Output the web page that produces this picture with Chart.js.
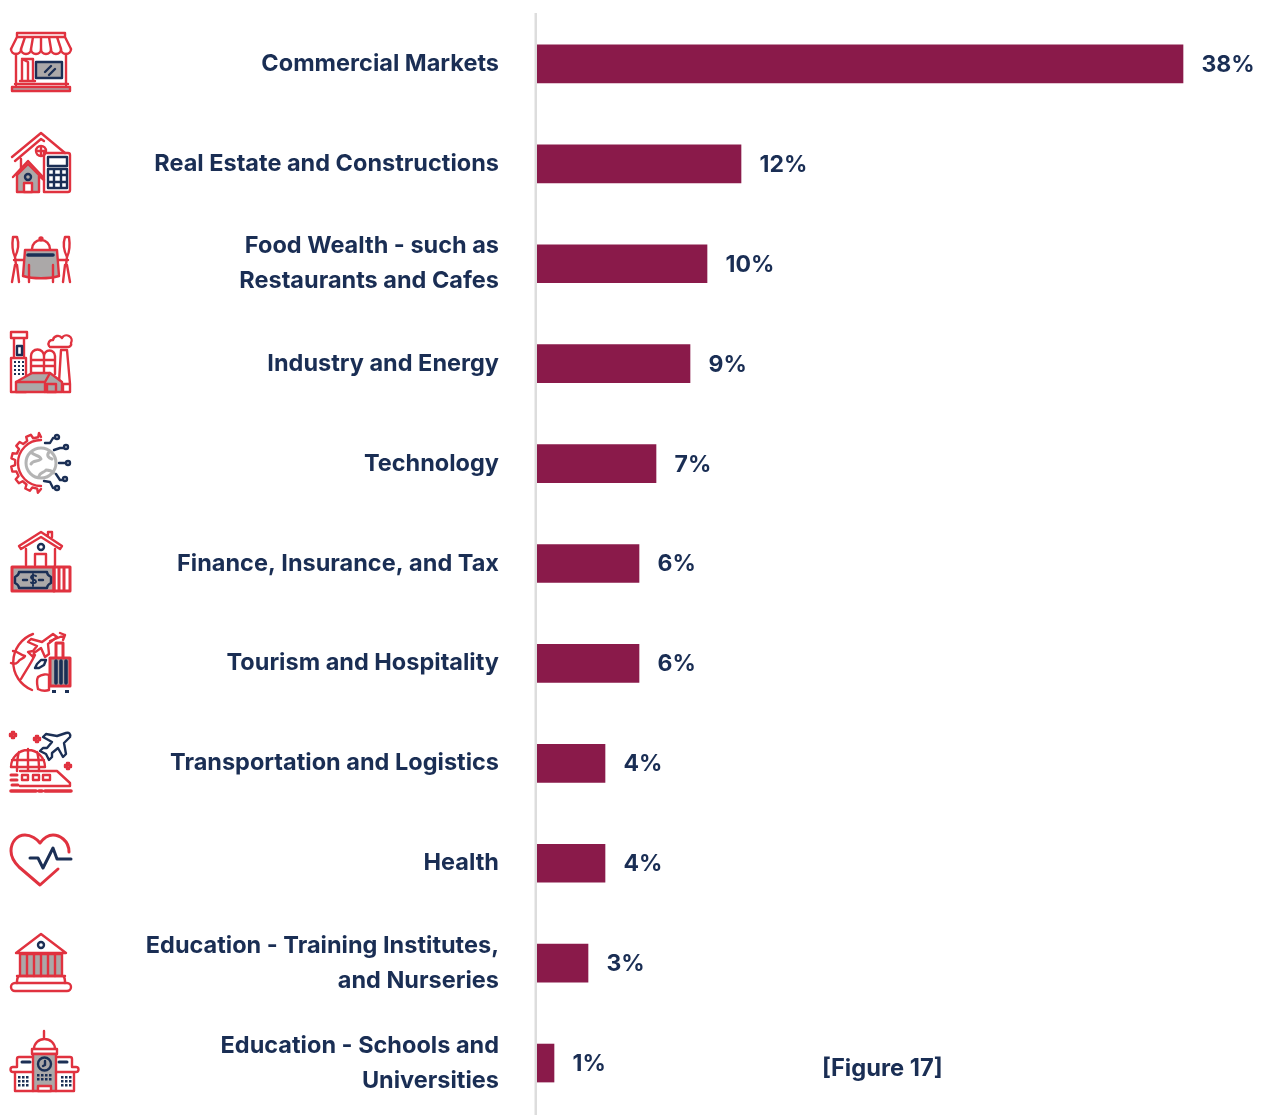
<!DOCTYPE html>
<html>
<head>
<meta charset="utf-8">
<title>Figure 17</title>
<script src="https://cdn.jsdelivr.net/npm/chart.js@4"></script>
<style>
  html, body { margin: 0; padding: 0; background: #fff; overflow: hidden; }
  canvas { display: block; }
</style>
</head>
<body>
<canvas id="myChart" width="1264" height="1115"></canvas>
<script>
const categories = [
  'Commercial Markets',
  'Real Estate and Constructions',
  ['Food Wealth - such as', 'Restaurants and Cafes'],
  'Industry and Energy',
  'Technology',
  'Finance, Insurance, and Tax',
  'Tourism and Hospitality',
  'Transportation and Logistics',
  'Health',
  ['Education - Training Institutes,', 'and Nurseries'],
  ['Education - Schools and', 'Universities']
];
const shares = [38, 12, 10, 9, 7, 6, 6, 4, 4, 3, 1];
const figureLabel = '[Figure 17]';

const NAVY = '#1b2f55';
const WINE = '#8a1a4a';
const RED = '#e0323f';
const INK = '#1a2e54';
const GREY = '#aba8a8';
const FONT = 'Inter, "Open Sans", sans-serif';

// small helpers for the row icons, each icon is a 60px box
function dots(x, y, cols, rows, dx, dy, s) {
  let p = '';
  for (let r = 0; r < rows; r++) {
    for (let c = 0; c < cols; c++) {
      const a = x + c * dx, b = y + r * dy;
      p += `M${a} ${b}h${s}v${s}h${-s}z`;
    }
  }
  return p;
}
function circle(x, y, r) {
  return `M${x - r} ${y}a${r} ${r} 0 1 0 ${2 * r} 0a${r} ${r} 0 1 0 ${-2 * r} 0z`;
}
function halfGear(cx, cy, r1, r2, teeth) {
  let p = `M${cx} ${cy - r1}`;
  for (let i = 0; i < teeth; i++) {
    const t = -Math.PI / 2 - Math.PI * (i + 0.15) / teeth;
    const w = Math.PI * 0.62 / teeth;
    const pt = (r, a) => `${(cx + r * Math.cos(a)).toFixed(1)} ${(cy + r * Math.sin(a)).toFixed(1)}`;
    p += `L${pt(r2, t)}L${pt(r1, t - w * 0.15)}L${pt(r1, t - w * 0.85)}L${pt(r2, t - w)}`;
  }
  return p + `L${cx} ${cy + r1}`;
}
function flower(x, y) {
  return `M${x - 1} ${y - 3}h2v2h2v2h-2v2h-2v-2h-2v-2h2z`;
}

const icons = [
  { dy: 0, parts: [
    [RED, null, 2, 'M6 1h48v4h-48zM6 5L0 17M54 5L60 17M14 5L10 17M22 5L20 17M30 5V17M38 5L40 17M46 5L50 17'],
    [RED, null, 2, 'M0 17a5 5 0 0 0 10 0a5 5 0 0 0 10 0a5 5 0 0 0 10 0a5 5 0 0 0 10 0a5 5 0 0 0 10 0a5 5 0 0 0 10 0'],
    [RED, null, 2, 'M5 22V53M55 22V53M11 27h11v22h-11zM11 27l6 3v18M9 49h15M4 52h53'],
    [NAVY, GREY, 2, 'M25 30h26v16h-26z'],
    [NAVY, null, 2, 'M34 40l6-6M38 43l6-6'],
    [RED, GREY, 2, 'M1 55h58v4h-58z']
  ]},
  { dy: 0, parts: [
    [RED, null, 2, 'M1 25L30 1L54 21M4 29L30 7L33 9M10 27V38M26 42L33 48'],
    [RED, null, 2, circle(30, 19, 5) + 'M25 19h10M30 14v10'],
    [RED, null, 2, 'M33 21h24a2 2 0 0 1 2 2v35a2 2 0 0 1-2 2h-24z'],
    [NAVY, null, 2, 'M37 25h19v9h-19z'],
    [NAVY, null, 2, 'M37 37h19v19h-19zM43 37v19M50 37v19M37 43h19M37 50h19'],
    [RED, GREY, 2, 'M6 43L17 32L28 43V60H6z'],
    [RED, null, 2, 'M2 45L17 29L32 45'],
    [NAVY, null, 2, circle(17, 45, 3)],
    [RED, '#fff', 2, 'M13 51h8v9h-8z']
  ]},
  { dy: 5, parts: [
    [RED, null, 2, 'M2 0h4c2 6 1 14-2 20l1 8M2 0c-1 7-1 14 2 20M4 28L1 45M6 28L8 45M3 23h11'],
    [RED, null, 2, 'M58 0h-4c-2 6-1 14 2 20l-1 8M58 0c1 7 1 14-2 20M56 28L59 45M54 28L52 45M57 23h-11'],
    [RED, null, 2, 'M21 12a9 9 0 0 1 18 0M30 3v0' + circle(30, 2, 1.5)],
    [RED, GREY, 2, 'M14 13h32l2 26c-10 3-26 3-36 0z'],
    [NAVY, null, 3, 'M17 18h25'],
    [RED, null, 2, 'M18 28V45M42 28V45']
  ]},
  { dy: 0, parts: [
    [RED, null, 2, 'M0 0h16v6h-16zM3 6h10v20h-10zM0 26h15v34h-15z'],
    [NAVY, null, 2, 'M6 14h5v9h-5z'],
    [NAVY, NAVY, 0, dots(3, 29, 3, 4, 4, 4, 2)],
    [RED, null, 2, 'M20 42V24a6 6 0 0 1 13 0V42M33 42V24a5 5 0 0 1 11 0V42M20 28h24M20 34h24'],
    [RED, null, 2, 'M48 50L50 18h6L59 52M52 52h7v8h-7z'],
    [RED, null, 2, 'M38 14a4 4 0 0 1 4-6a5 5 0 0 1 9-2a5 5 0 0 1 9 5a3 3 0 0 1-3 4H39'],
    [RED, GREY, 2, 'M5 50L21 41H39L51 50V60H5z'],
    [RED, null, 2, 'M5 50H34L39 41M34 50V60M36 52h9v8h-9z']
  ]},
  { dy: 0, parts: [
    [RED, null, 2, halfGear(30, 31, 26, 30, 7) + 'M30 8a23 23 0 0 0 0 46'],
    ['#b4b4b4', null, 2.5, circle(30, 31, 15) + 'M20 20c4 5 8 2 10 7c-3 3-8 1-10 5M38 20c-3 4 0 6 3 7M28 44c1-4 5-3 7-6c3 0 6 1 8 3'],
    [NAVY, null, 2, 'M34 11h5l3-5h2' + circle(46, 5, 2)],
    [NAVY, null, 2, 'M43 18l6-2h4' + circle(55, 15, 2)],
    [NAVY, null, 2, 'M48 31h7' + circle(57, 31, 2)],
    [NAVY, null, 2, 'M45 42l4 6h3' + circle(54, 47, 2)],
    [NAVY, null, 2, 'M33 49l6 1l3 6h2' + circle(46, 56, 2)]
  ]},
  { dy: 0, parts: [
    [RED, null, 2, 'M8 14L30 0L51 14l-2 3L30 5L10 17zM37 3V0h4v5M15 17v16M44 17v16'],
    [NAVY, null, 2, circle(30, 15, 3)],
    [RED, null, 2, 'M24 33V22h11v11'],
    [RED, GREY, 2.5, 'M1 35h42v24h-42z'],
    [RED, null, 2.5, 'M43 35h16v24h-16zM48 35v24M53 35v24'],
    [NAVY, null, 2, 'M8 40h28c0 3 2 4 4 5v6c-2 1-4 2-4 5h-28c0-3-2-4-4-5v-6c2-1 4-2 4-5zM12 48h4M28 48h4'],
    [NAVY, null, 1.6, 'M25 44c-1-1-5-1-5 1.500s5 1.500 5 4c0 2-4 2-5 1M22 42v12']
  ]},
  { dy: 0, parts: [
    [RED, null, 2, 'M22 3a30 30 0 0 0-1 56M10 48c6-10 10-16 14-24M2 20c5 0 7 4 12 5c-1 3-5 2-7 6c-2 2-5 2-7 1M27 58c-1-5-2-8 0-12c4-3 9-3 11-2v15c-3 1-7 1-11-1'],
    [RED, null, 2, 'M42 3l4 3l-9 7l1 10l-4 3l-4-9l-7 5l-1 4l-5-5l5-1l4-5l-9-4l3-3l11 3z'],
    [RED, null, 2, 'M39 10L54 4M49 2L54 4L52 9'],
    [NAVY, null, 2, 'M26 33l4-4h5l-2 5l-5 3h-4z'],
    [RED, null, 2.5, 'M45 27V12h7V27'],
    [RED, GREY, 2.5, 'M39 27h20v28h-20z'],
    [NAVY, null, 3, 'M45 30V52M50 30V52M55 30V52'],
    [NAVY, NAVY, 0, 'M41 59h4v3h-4zM54 59h4v3h-4z']
  ]},
  { dy: 0, parts: [
    [RED, null, 2, flower(2, 4) + flower(26, 8) + flower(57, 35)],
    [NAVY, null, 2, 'M55 2c3-1 5 1 4 4l-6 6l2 11l-3 3l-5-9l-6 5v4l-3 3l-3-6l-6-3l3-3h4l5-6l-9-5l3-3l11 2z'],
    [RED, null, 2, 'M0 36a17 17 0 0 1 34 0M17 18v21M8 21c-2 5-2 12-2 19M26 21c2 5 2 12 2 19M1 29h32M0 36h34'],
    [RED, null, 2, 'M9 40H46L59 52v3H9'],
    [RED, null, 2, 'M11 44h6v5h-6zM22 44h6v5h-6zM32 44h7v5h-7z'],
    [RED, null, 2.5, 'M0 44h6M0 49h6M1 54h6'],
    [RED, null, 3, 'M0 60h25M28 60h3M34 60h26']
  ]},
  { dy: 4, parts: [
    [RED, null, 2.5, 'M58 17C58 5 48 0 42 0C36 0 32 4 29 8C26 4 20 0 14 0C6 0 0 7 0 16C0 24 5 29 8 32L29 50L47 34'],
    [NAVY, null, 2.5, 'M19 23H27L32 33L42 13L46 24H60']
  ]},
  { dy: 3, parts: [
    [RED, null, 2, 'M5 19L30 0L55 19z'],
    [NAVY, null, 2, circle(30, 11, 3)],
    [RED, GREY, 2, 'M9 20h42v22h-42z'],
    [RED, null, 2, 'M16 20v22M23 20v22M30 20v22M37 20v22M44 20v22'],
    [RED, null, 2, 'M9 42c-3 0-3 3-3 7M51 42c3 0 3 3 3 7M6 42h48'],
    [RED, null, 2, 'M4 49h52a4 4 0 0 1 0 8h-52a4 4 0 0 1 0-8z']
  ]},
  { dy: 0, parts: [
    [RED, null, 2, 'M33 0v8M23 18a10.500 10 0 0 1 21 0M21 18h25v5h-25z'],
    [RED, GREY, 2, 'M22 23h23v37h-23z'],
    [NAVY, null, 2, circle(33.500, 33, 6.500) + 'M34 30v4l-2 1'],
    [NAVY, NAVY, 0, dots(26, 43, 4, 2, 4, 4, 2.500)],
    [RED, '#fff', 2, 'M27 60v-5h13v5z'],
    [RED, null, 2, 'M22 26h-14a2 2 0 0 0-2 2v8M45 26h14a2 2 0 0 1 2 2v8M6 36h-4a2 2 0 0 0 0 5h20M61 36h4a2 2 0 0 1 0 5h-20M4 41v19h18M63 41v19h-18'],
    [NAVY, null, 2.5, 'M11 31h8M48 31h8'],
    [NAVY, NAVY, 0, dots(7, 45, 3, 3, 4, 4, 2.500) + dots(50, 45, 3, 3, 4, 4, 2.500)]
  ]}
];

const decorations = {
  id: 'decorations',
  beforeDatasetsDraw(chart) {
    const ctx = chart.ctx;
    ctx.save();
    ctx.fillStyle = '#dddddd';
    ctx.fillRect(534.5, 13, 2.5, chart.height - 13);
    ctx.restore();
  },
  afterDatasetsDraw(chart) {
    const ctx = chart.ctx;
    const yScale = chart.scales.y;

    // value labels at the end of each bar
    ctx.save();
    ctx.fillStyle = INK;
    ctx.font = '700 23px ' + FONT;
    ctx.textBaseline = 'middle';
    ctx.textAlign = 'left';
    chart.getDatasetMeta(0).data.forEach((bar, i) => {
      ctx.fillText(shares[i] + '%', bar.x + 18.5, bar.y + 1);
    });
    ctx.font = '700 23.7px ' + FONT;
    ctx.fillText(figureLabel, 822, yScale.getPixelForValue(10) + 6);
    ctx.restore();

    // icons, one per row
    icons.forEach((icon, i) => {
      ctx.save();
      ctx.translate(11, Math.round(yScale.getPixelForValue(i)) - 32 + icon.dy);
      ctx.lineJoin = 'round';
      ctx.lineCap = 'round';
      icon.parts.forEach(([stroke, fill, width, d]) => {
        const path = new Path2D(d);
        if (fill) {
          ctx.fillStyle = fill;
          ctx.fill(path);
        }
        if (width > 0) {
          ctx.strokeStyle = stroke;
          ctx.lineWidth = width * 1.2;
          ctx.stroke(path);
        }
      });
      ctx.restore();
    });
  }
};

new Chart('myChart', {
  type: 'bar',
  data: {
    labels: categories,
    datasets: [{
      data: shares,
      backgroundColor: WINE,
      barThickness: 38
    }]
  },
  options: {
    indexAxis: 'y',
    responsive: false,
    animation: false,
    layout: { padding: { top: 14, bottom: 2, left: 0, right: 13 } },
    plugins: {
      legend: { display: false },
      tooltip: { enabled: false }
    },
    scales: {
      x: { display: false, min: 0, max: 42 },
      y: {
        grid: { display: false, drawTicks: false },
        border: { display: false },
        afterFit(scale) {
          scale.width = 537;
          scale.paddingTop = 0;
          scale.paddingBottom = 0;
        },
        ticks: {
          autoSkip: false,
          padding: 38,
          color: INK,
          font: { family: FONT, size: 23.5, weight: '700', lineHeight: 1.49 }
        }
      }
    }
  },
  plugins: [decorations]
});
</script>
</body>
</html>
